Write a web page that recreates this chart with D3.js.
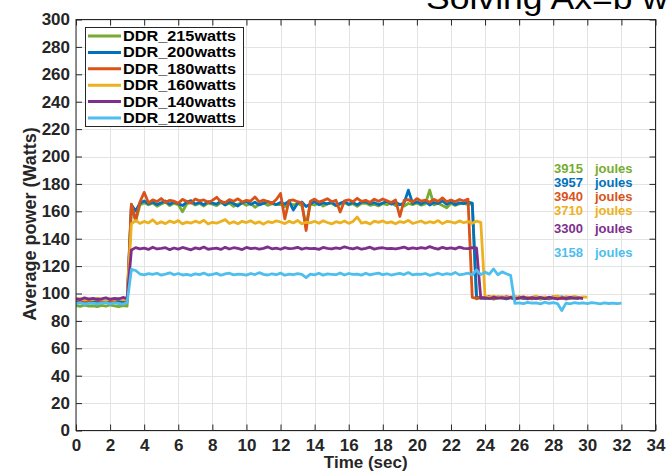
<!DOCTYPE html>
<html><head><meta charset="utf-8">
<script src="https://cdn.jsdelivr.net/npm/d3@7/dist/d3.min.js"></script>
<style>
html,body{margin:0;padding:0;background:#fff;overflow:hidden}
svg{display:block;font-family:"Liberation Sans",Arial,Helvetica,sans-serif}
</style></head><body>
<svg id="chart" width="667" height="474"></svg>
<script>
// ---- data ----
const seriesNames = ["DDR_215watts","DDR_200watts","DDR_180watts","DDR_160watts","DDR_140watts","DDR_120watts"];
const seriesColors = ["#77AC30","#0072BD","#D95319","#EDB120","#7E2F8E","#4DBEEE"];
const sampleStep = 0.25; // seconds between samples (first sample at t = 0)

const ddr215 = [
 91.2,90.6,91.5,90.8, 91.0,90.4,91.3,90.7, 91.6,90.9,90.5,91.2, 90.8,163.9,152.8,164.5,
 166.2,164.8,165.9,163.7, 165.4,166.6,164.2,165.8, 164.9,159.7,165.5,166.3, 164.6,165.8,163.9,166.0,
 165.2,164.1,166.4,164.7, 165.9,163.6,165.3,166.1, 164.4,165.7,162.9,165.0, 166.2,164.3,165.6,164.8,
 165.1,163.4,166.0,164.5, 165.7,164.2,150.0,165.3, 164.6,166.1,163.8,165.4, 165.9,164.0,165.2,166.3,
 164.7,165.5,163.6,165.8, 166.0,164.4,165.1,163.9, 165.6,164.8,166.2,164.1, 165.3,163.8,165.7,164.9,
 166.1,164.5,165.4,175.5, 164.7,165.9,164.2,162.6, 165.8,164.3,165.5,166.0, 164.9,165.6,96.1,96.9,
 96.3,97.2,95.8,96.6, 97.0,96.2,96.8,95.9, 96.5,97.3,96.0,96.7, 97.1,95.9,96.6,96.2,
 96.9,96.4,97.0,95.8, 96.5,96.8,96.3
];
const ddr200 = [
 94.2,93.6,94.5,93.9, 94.8,93.7,94.1,94.6, 93.8,94.4,94.0,93.5, 94.3,164.8,160.2,165.9,
 167.6,165.4,166.8,164.9, 166.2,167.5,165.1,166.9, 165.6,164.2,166.7,167.8, 165.3,166.4,164.8,167.1,
 166.0,165.2,167.4,164.6, 166.9,165.7,163.9,166.3, 167.2,165.0,166.6,164.7, 165.8,167.0,166.1,164.9,
 166.5,165.3,167.3,161.0, 165.9,166.8,163.5,165.4, 167.1,164.8,166.2,165.5, 166.7,164.3,165.9,167.2,
 165.1,166.4,164.7,166.8, 167.0,165.6,166.3,164.9, 166.1,167.4,165.2,166.6, 164.8,166.0,175.5,165.7,
 166.9,165.3,167.2,164.6, 166.4,165.8,167.6,165.1, 166.7,164.9,166.2,165.6, 166.8,165.9,96.8,97.3,
 96.4,97.0,96.2,97.5, 96.9,96.1,97.2,96.6, 97.4,96.3,96.8,97.0, 96.2,97.3,96.7,96.0,
 97.1,96.5,97.6,96.4, 96.8,97.0,96.5
];
const ddr180 = [
 95.5,94.8,95.2,94.6, 95.8,95.1,94.9,95.6, 95.0,94.7,96.1,95.3, 95.0,165.2,153.5,166.8,
 173.8,166.2,168.4,167.1, 169.3,166.5,168.0,167.4, 165.9,168.7,167.2,166.1, 169.0,167.6,168.3,166.4,
 167.9,170.2,167.0,166.3, 168.5,167.3,169.1,166.8, 168.0,167.5,170.4,166.9, 168.2,167.1,165.8,168.6,
 173.0,154.5,167.8,168.3, 167.0,166.2,146.0,167.4, 168.9,166.7,167.8,169.2, 167.0,168.1,159.5,167.6,
 168.4,166.9,169.5,167.2, 168.0,166.5,168.8,167.3, 169.0,167.7,166.4,168.2, 156.2,167.9,168.5,166.8,
 169.3,167.4,168.1,166.6, 168.7,167.2,169.8,167.0, 168.3,166.9,168.6,167.5, 168.9,97.2,96.5,97.4,
 96.8,97.9,96.3,97.1, 96.6,97.8,96.9,96.2, 97.5,96.7,97.3,96.0, 97.6,96.8,97.2,96.4,
 97.7,96.9,96.3,97.1, 96.6,97.4,96.8
];
const ddr160 = [
 95.8,96.3,95.4,96.0, 95.6,96.5,95.9,95.2, 96.1,95.7,96.4,95.5, 95.9,150.8,153.4,151.2,
 152.6,151.5,153.8,150.9, 152.3,151.0,152.9,151.7, 153.2,150.8,152.1,151.4, 152.8,151.6,153.5,150.7,
 152.0,151.3,152.6,153.9, 151.1,152.4,150.9,152.7, 151.8,153.1,151.2,152.3, 150.6,152.5,151.7,153.0,
 152.2,151.0,152.8,151.5, 153.3,150.9,152.0,151.6, 152.7,151.3,153.1,151.8, 150.8,152.4,151.5,152.9,
 151.2,152.6,155.8,151.4, 152.1,150.7,152.8,151.9, 153.0,151.5,152.3,150.9, 152.5,151.8,153.4,151.1,
 152.0,152.9,151.3,152.4, 151.6,153.2,151.0,152.6, 152.2,151.4,153.0,151.7, 152.5,151.2,152.8,151.9,
 97.6,97.0,98.1,97.3, 97.8,96.9,97.5,98.0, 97.2,97.7,96.8,97.4, 98.0,97.1,97.6,96.9,
 97.5,98.2,97.0,97.7, 97.3,97.9,97.1,97.6, 97.4
];
const ddr140 = [
 96.2,95.6,96.8,95.9, 96.5,95.8,96.1,96.9, 95.7,96.4,96.0,97.1, 96.3,131.8,133.5,132.6,
 133.1,132.2,133.8,132.5, 132.9,133.4,132.0,133.2, 132.4,133.6,132.8,131.9, 133.3,132.6,133.9,132.3,
 132.8,133.1,132.2,133.7, 132.5,133.4,132.9,132.1, 133.6,132.7,133.2,132.4, 132.9,134.0,132.6,133.1,
 132.3,133.5,132.8,133.0, 133.7,132.4,133.2,132.7, 133.0,132.2,133.6,132.9, 132.5,133.3,132.8,134.1,
 133.2,132.6,133.5,132.3, 132.9,133.8,132.4,133.1, 133.4,132.7,133.0,132.5, 133.2,133.9,132.6,133.3,
 132.8,133.5,132.9,134.2, 133.1,132.4,133.7,132.8, 133.3,132.6,133.9,133.0, 132.7,133.5,133.2,96.4,
 96.9,96.2,97.3,96.6, 97.0,96.4,97.2,96.1, 96.8,97.4,96.3,96.9, 96.5,97.1,96.2,97.3,
 96.7,96.0,96.9,96.4, 97.2,96.6,96.8,96.3
];
const ddr120 = [
 92.6,93.1,92.3,92.8, 93.0,92.4,92.9,93.3, 92.5,93.2,92.7,92.2, 93.4,117.6,116.8,114.2,
 113.6,114.5,113.9,114.8, 113.4,114.2,115.1,113.7, 114.6,113.5,114.0,113.2, 114.4,113.8,114.9,113.5,
 113.9,114.7,113.3,114.3, 114.8,113.6,114.1,113.9, 113.4,114.6,113.8,115.2, 114.0,113.5,114.4,113.7,
 114.9,113.3,114.2,113.8, 114.5,113.9,111.6,114.1, 113.6,114.8,113.4,114.3, 114.0,113.7,115.0,113.5,
 114.6,113.9,114.2,113.4, 114.8,113.6,114.3,114.9, 113.7,114.4,113.5,114.1, 114.7,113.8,115.3,113.6,
 114.2,113.9,114.6,113.3, 114.0,114.8,113.7,114.5, 113.9,115.4,113.6,114.2, 114.9,113.5,117.2,113.8,
 115.6,114.1,117.9,113.7, 115.8,114.4,113.2,92.8, 93.2,92.6,93.5,92.9, 93.1,92.4,93.6,92.8,
 93.3,92.7,87.6,93.0, 92.5,93.4,92.8,93.1, 92.6,93.3,92.9,92.4, 93.2,92.7,93.0,92.6, 92.9
];
const seriesValues = [ddr215, ddr200, ddr180, ddr160, ddr140, ddr120];

const energyJoules = [3915, 3957, 3940, 3710, 3300, 3158];
const xTickValues = [0,2,4,6,8,10,12,14,16,18,20,22,24,26,28,30,32,34];
const yTickValues = [0,20,40,60,80,100,120,140,160,180,200,220,240,260,280,300];
const titleText = "Solving Ax=b w";
const xLabelText = "Time (sec)";
const yLabelText = "Average power (Watts)";

// ---- layout (not data) ----
const plot = {left: 76, right: 655.5, top: 19.5, bottom: 430.5};
const annot = {numX: 28.05, unitX: 30.45, ys: [191.2, 180.7, 170.9, 160.6, 147.1, 129.6]};
const axisColor = "#262626";

const svg = d3.select("#chart");
const x = d3.scaleLinear().domain([0, 34]).range([plot.left, plot.right]);
const y = d3.scaleLinear().domain([0, 300]).range([plot.bottom, plot.top]);

// grid
const grid = svg.append("g").attr("stroke", "#e3e3e3").attr("stroke-width", 1);
grid.selectAll("line.gx").data(xTickValues).join("line")
  .attr("x1", d => Math.round(x(d)) + 0.5).attr("x2", d => Math.round(x(d)) + 0.5)
  .attr("y1", plot.top).attr("y2", plot.bottom);
grid.selectAll("line.gy").data(yTickValues).join("line")
  .attr("y1", d => Math.round(y(d)) + 0.5).attr("y2", d => Math.round(y(d)) + 0.5)
  .attr("x1", plot.left).attr("x2", plot.right);

// lines
svg.append("clipPath").attr("id", "clip").append("rect")
  .attr("x", plot.left).attr("y", plot.top)
  .attr("width", plot.right - plot.left).attr("height", plot.bottom - plot.top);
const line = d3.line().x((d, i) => x(i * sampleStep)).y(d => y(d));
svg.append("g").attr("clip-path", "url(#clip)")
  .selectAll("path").data(seriesValues).join("path")
  .attr("d", d => line(d))
  .attr("fill", "none")
  .attr("stroke", (d, i) => seriesColors[i])
  .attr("stroke-width", 2.8)
  .attr("stroke-linejoin", "round");

// axes
function styleAxis(g) {
  g.select(".domain").remove();
  g.selectAll(".tick line").attr("stroke", axisColor);
  g.selectAll(".tick text").attr("fill", axisColor)
    .attr("font-size", 17).attr("font-weight", "bold")
    .attr("font-family", '"Liberation Sans",Arial,Helvetica,sans-serif');
}
svg.append("g").attr("transform", `translate(0,${plot.bottom})`)
  .call(d3.axisBottom(x).tickValues(xTickValues).tickSizeInner(-6).tickSizeOuter(0).tickPadding(8).tickFormat(d3.format("d")))
  .call(styleAxis);
svg.append("g").attr("transform", `translate(${plot.left},0)`)
  .call(d3.axisLeft(y).tickValues(yTickValues).tickSizeInner(-6).tickSizeOuter(0).tickPadding(6).tickFormat(d3.format("d")))
  .call(styleAxis);
svg.append("g").attr("transform", `translate(0,${plot.top})`)
  .call(d3.axisTop(x).tickValues(xTickValues).tickSizeInner(-6).tickSizeOuter(0).tickFormat(""))
  .call(styleAxis);
svg.append("g").attr("transform", `translate(${plot.right},0)`)
  .call(d3.axisRight(y).tickValues(yTickValues).tickSizeInner(-6).tickSizeOuter(0).tickFormat(""))
  .call(styleAxis);
svg.append("rect").attr("x", plot.left).attr("y", plot.top)
  .attr("width", plot.right - plot.left).attr("height", plot.bottom - plot.top)
  .attr("fill", "none").attr("stroke", axisColor).attr("stroke-width", 1);

// axis labels
svg.append("text").attr("x", (plot.left + plot.right) / 2).attr("y", 468)
  .attr("text-anchor", "middle").attr("font-size", 17).attr("font-weight", "bold")
  .attr("fill", axisColor).text(xLabelText);
svg.append("text").attr("transform", `translate(36,${(plot.top + plot.bottom) / 2 - 1}) rotate(-90)`)
  .attr("text-anchor", "middle").attr("font-size", 18).attr("font-weight", "bold")
  .attr("fill", axisColor).text(yLabelText);

// title (cut by the page edge, as in the reference)
svg.append("text").attr("x", 426).attr("y", 9)
  .attr("font-size", 32).attr("fill", "#000")
  .attr("textLength", 242).attr("lengthAdjust", "spacingAndGlyphs")
  .text(titleText);

// energy annotations
const ann = svg.append("g").attr("font-size", 13).attr("font-weight", "bold");
energyJoules.forEach((e, i) => {
  ann.append("text").attr("x", x(annot.numX)).attr("y", y(annot.ys[i]))
    .attr("dominant-baseline", "central").attr("fill", seriesColors[i]).text(e);
  ann.append("text").attr("x", x(annot.unitX)).attr("y", y(annot.ys[i]))
    .attr("dominant-baseline", "central").attr("fill", seriesColors[i]).text("joules");
});

// legend
const lg = svg.append("g");
lg.append("rect").attr("x", 85.5).attr("y", 27.5).attr("width", 158).attr("height", 99)
  .attr("fill", "#fff").attr("stroke", axisColor).attr("stroke-width", 1);
seriesNames.forEach((name, i) => {
  const cy = 36 + i * 16.4;
  lg.append("line").attr("x1", 88).attr("x2", 121).attr("y1", cy).attr("y2", cy)
    .attr("stroke", seriesColors[i]).attr("stroke-width", 3);
  lg.append("text").attr("x", 123).attr("y", cy).attr("dominant-baseline", "central")
    .attr("font-size", 14).attr("font-weight", "bold").attr("fill", "#000")
    .attr("textLength", 113).attr("lengthAdjust", "spacingAndGlyphs").text(name);
});
</script>
</body></html>
